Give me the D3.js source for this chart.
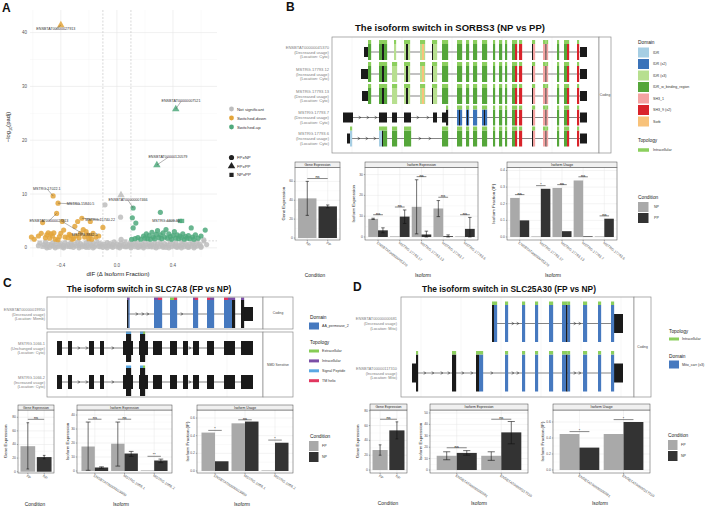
<!DOCTYPE html>
<html><head><meta charset="utf-8">
<script src="https://cdn.jsdelivr.net/npm/d3@7"></script>
<style>body{margin:0;background:#fff}svg{display:block}text{font-family:"Liberation Sans",Arial,sans-serif}</style>
</head><body><div id="chart"></div>
<script>
// ================= DATA =================
const volcanoNS = [
[-0.56,0.4,'c'],[-0.55,0.9,'c'],[-0.53,0.2,'s'],[-0.52,0.6,'c'],[-0.51,1.1,'c'],[-0.50,0.3,'c'],[-0.49,0.7,'s'],[-0.48,0.1,'c'],[-0.47,0.5,'c'],[-0.46,0.9,'c'],
[-0.45,0.3,'c'],[-0.44,0.6,'s'],[-0.43,1.2,'c'],[-0.42,0.2,'c'],[-0.41,0.5,'c'],[-0.40,0.8,'c'],[-0.39,0.1,'s'],[-0.38,0.4,'c'],[-0.37,1.0,'c'],[-0.36,0.3,'c'],
[-0.35,0.6,'c'],[-0.34,0.2,'s'],[-0.33,0.9,'c'],[-0.32,0.5,'c'],[-0.31,0.1,'c'],[-0.30,0.7,'c'],[-0.29,0.3,'s'],[-0.28,1.1,'c'],[-0.27,0.4,'c'],[-0.26,0.8,'c'],
[-0.25,0.2,'c'],[-0.24,0.6,'s'],[-0.23,0.3,'c'],[-0.22,1.0,'c'],[-0.21,0.5,'c'],[-0.20,0.1,'c'],[-0.19,0.7,'s'],[-0.18,0.4,'c'],[-0.17,0.9,'c'],[-0.16,0.2,'c'],
[-0.15,0.6,'c'],[-0.14,1.2,'s'],[-0.13,0.3,'c'],[-0.12,0.8,'c'],[-0.11,0.5,'c'],[-0.10,0.1,'c'],[-0.09,0.7,'s'],[-0.08,0.3,'c'],[-0.07,1.0,'c'],[-0.06,0.4,'c'],
[-0.05,0.8,'c'],[-0.04,0.2,'s'],[-0.03,0.6,'c'],[-0.02,1.1,'c'],[-0.01,0.3,'c'],[0.00,0.7,'c'],[0.01,0.1,'s'],[0.02,0.5,'c'],[0.03,0.9,'c'],[0.04,0.3,'c'],
[0.05,0.6,'c'],[0.06,1.2,'s'],[0.07,0.2,'c'],[0.08,0.5,'c'],[0.09,0.8,'c'],[0.10,0.3,'c'],[0.11,0.6,'s'],[0.12,1.0,'c'],[0.13,0.2,'c'],[0.14,0.5,'c'],
[0.15,0.9,'c'],[0.16,0.1,'s'],[0.17,0.4,'c'],[0.18,0.7,'c'],[0.19,0.3,'c'],[0.20,1.1,'c'],[0.21,0.5,'s'],[0.22,0.2,'c'],[0.23,0.8,'c'],[0.24,0.4,'c'],
[0.25,0.6,'c'],[0.26,0.1,'s'],[0.27,0.9,'c'],[0.28,0.3,'c'],[0.29,0.7,'c'],[0.30,0.2,'c'],[0.31,1.0,'s'],[0.32,0.5,'c'],[0.33,0.3,'c'],[0.34,0.8,'c'],
[0.35,0.1,'c'],[0.36,0.6,'s'],[0.37,0.4,'c'],[0.38,1.2,'c'],[0.39,0.2,'c'],[0.40,0.7,'c'],[0.41,0.4,'s'],[0.42,0.9,'c'],[0.43,0.1,'c'],[0.44,0.5,'c'],
[0.45,0.3,'c'],[0.46,1.0,'s'],[0.47,0.6,'c'],[0.48,0.2,'c'],[0.49,0.8,'c'],[0.50,0.4,'c'],[0.51,0.1,'s'],[0.52,0.7,'c'],[0.53,0.3,'c'],[0.54,0.9,'c'],
[0.55,0.5,'c'],[0.56,0.2,'s'],[0.57,1.1,'c'],[0.58,0.4,'c'],[0.59,0.7,'c'],[0.60,0.3,'c'],[0.62,1.2,'s'],[0.64,0.6,'c'],
[-0.50,0.0,'c'],[-0.44,0.0,'c'],[-0.38,0.0,'c'],[-0.33,0.2,'c'],[-0.27,0.0,'c'],[-0.22,0.1,'c'],[-0.17,0.0,'c'],[-0.12,0.2,'c'],[-0.07,0.0,'c'],[-0.03,0.1,'c'],
[0.02,0.0,'c'],[0.06,0.2,'c'],[0.10,0.0,'c'],[0.15,0.1,'c'],[0.19,0.0,'c'],[0.24,0.2,'c'],[0.28,0.0,'c'],[0.33,0.1,'c'],[0.37,0.0,'c'],[0.42,0.2,'c'],
[0.46,0.0,'c'],[0.51,0.1,'c'],[0.55,0.0,'c'],[0.60,0.1,'c'],
[-0.085,8.0,'c'],[0.026,5.7,'c'],[0.029,9.8,'t'],[0.03,1.6,'c'],[0.62,1.5,'c'],[-0.20,1.5,'c']];
const volcanoDown = [
[-0.61,2.0,'c'],[-0.59,1.6,'c'],[-0.56,2.2,'c'],[-0.54,2.7,'c'],[-0.53,4.7,'c'],[-0.51,1.9,'c'],[-0.50,2.4,'c'],[-0.49,2.8,'c'],[-0.48,1.8,'c'],[-0.47,2.6,'c'],
[-0.46,2.2,'c'],[-0.455,9.65,'c'],[-0.45,2.8,'c'],[-0.44,1.6,'c'],[-0.43,6.4,'c'],[-0.42,8.3,'c'],[-0.42,1.5,'c'],[-0.41,2.1,'c'],[-0.40,2.7,'c'],[-0.39,4.9,'c'],
[-0.38,3.3,'c'],[-0.37,2.0,'c'],[-0.35,1.9,'c'],[-0.34,2.5,'c'],[-0.33,2.3,'c'],[-0.32,1.6,'c'],[-0.31,1.7,'c'],[-0.30,4.0,'c'],[-0.29,2.2,'c'],[-0.28,4.9,'c'],
[-0.27,1.9,'c'],[-0.26,2.7,'c'],[-0.25,5.5,'c'],[-0.24,3.4,'c'],[-0.23,2.0,'c'],[-0.22,3.0,'c'],[-0.21,2.4,'c'],[-0.20,1.7,'c'],[-0.19,2.3,'c'],[-0.19,4.9,'c'],
[-0.18,1.6,'c'],[-0.17,2.7,'c'],[-0.15,2.0,'c'],[-0.13,2.2,'c'],[-0.10,3.8,'c'],[-0.40,41.4,'t']];
const volcanoUp = [
[0.116,7.4,'c'],[0.11,5.6,'c'],[0.116,3.7,'c'],[0.135,4.6,'c'],[0.105,1.6,'c'],[0.13,1.7,'c'],[0.15,1.9,'c'],[0.17,1.6,'c'],[0.19,2.2,'c'],[0.20,1.8,'c'],
[0.21,2.6,'c'],[0.22,1.7,'c'],[0.23,2.3,'c'],[0.24,1.6,'c'],[0.25,2.9,'c'],[0.26,2.0,'c'],[0.27,1.7,'c'],[0.28,2.5,'c'],[0.29,3.2,'c'],[0.30,1.9,'c'],
[0.31,6.6,'c'],[0.31,2.4,'c'],[0.32,1.7,'c'],[0.33,2.8,'c'],[0.34,2.0,'c'],[0.35,3.4,'c'],[0.36,1.8,'c'],[0.37,2.6,'c'],[0.38,2.1,'c'],[0.39,1.6,'c'],
[0.40,2.3,'c'],[0.41,3.0,'c'],[0.42,1.8,'c'],[0.43,2.4,'c'],[0.44,1.7,'c'],[0.45,2.2,'c'],[0.46,1.9,'c'],[0.47,2.6,'c'],[0.48,1.6,'c'],[0.49,2.1,'c'],
[0.50,1.8,'c'],[0.51,2.3,'c'],[0.52,1.7,'c'],[0.53,3.7,'c'],[0.54,2.0,'c'],[0.55,1.6,'c'],[0.56,2.4,'c'],[0.58,1.8,'c'],[0.60,2.2,'c'],[0.63,3.3,'c'],
[0.42,25.8,'t'],[0.285,15.4,'t'],[0.45,5.0,'s'],[0.465,5.0,'s']];
const volcanoLabels = [
["ENSBTAT00000027913",-0.40,41.4,-0.436,40.6],
["ENSBTAT00000007521",0.42,25.8,0.457,27.2],
["ENSBTAT00000120579",0.285,15.4,0.364,16.8],
["MSTRG.17022.1",-0.455,9.65,-0.50,11.0],
["MSTRG.15840.5",-0.42,8.3,-0.26,8.1],
["ENSBTAT00000007466",0.116,7.4,0.08,8.8],
["MSTRG.4409.30",0.45,5.0,0.35,5.0],
["ENSBTAT00000027813",-0.43,6.4,-0.485,5.0],
["MSTRG.15740.22",-0.25,5.5,-0.12,5.2],
["MSTRG.8842.5",-0.39,4.9,-0.23,2.4]];
const volcanoXTicks = [-0.4,0.0,0.4];
const volcanoYTicks = [0,10,20,30,40];
const sigClasses = ["Not significant","Switched-down","Switched-up"];
const comparisons = ["FPxNP","FPxPP","NPxPP"];

// Panel B SORBS3
const sorbsIsoforms = ["ENSBTAT00000045370","MSTRG.17793.12","MSTRG.17793.13","MSTRG.17793.7","MSTRG.17793.6"];
const sorbsUsage = ["Decreased usage","Increased usage","Decreased usage","Decreased usage","Increased usage"];
const sorbsLoc = ["Cyto","Cyto","Cyto","Cyto","Cyto"];
const sorbsTail = [[161,163,"W"],[167,170,"W"],[173,175,"W"],[180,183,"W"],[183,185,"S9"],[187,190,"S9"],[200,201,"K"],[201,203,"S1"],[211,213.5,"S1"],[213.5,214.5,"K"],[214.5,216,"S1"],[225,227,"W"],[232,235,"W"],[235,237,"S9"],[245,247,"S9"]];
const sorbsHead1 = [[36,39,"W"],[47,50,"W"],[50,52,"K"],[52,55,"W"],[62,64,"I3"],[72,74,"I3"],[74,76,"K"],[76,78,"I3"],[88,90,"I3"],[90,92,"SO"],[92,93,"I3"],[100,101,"K"],[101,105,"I3"],[110,116,"W"],[125,130,"W"],[134,137,"W"],[141,145,"W"],[150,155,"W"]];
const sorbsHead2 = [[36,39,"W"],[47,50,"W"],[50,52,"K"],[52,55,"W"],[60,65,"I3"],[72,74,"I3"],[74,76,"K"],[76,78,"I3"],[88,90,"I3"],[90,92,"SO"],[92,93,"I3"],[100,101,"K"],[101,105,"I3"],[110,116,"W"],[125,130,"W"],[134,137,"W"],[141,145,"W"],[150,155,"W"]];
const sorbsHead4 = [[114,116,"K"],[125,127,"I2"],[127,128,"K"],[128,130,"I2"],[134,135,"I2"],[135,136,"K"],[136,137,"I2"],[141,145,"I2"],[150,152,"I2"],[152,153,"K"],[153,155,"I2"]];
const sorbsHead5 = [[18,20,"I1"],[47,50,"I1"],[50,51,"K"],[51,55,"W"],[60,65,"W"],[72,79,"W"],[110,116,"W"],[125,130,"W"],[134,137,"W"],[141,145,"W"],[150,155,"W"]];
const sorbsUTR = [[[32,36],[248,255]],[[29,36],[248,255]],[[30,36],[248,255]],[[11,21],[47,55],[60,65],[72,79],[101,105],[110,114],[248,255]],[[15,18],[248,255]]];
const sorbsChev = [[],[],[],[28,36,44,86,96],[27,35,43,88,98]];
const sorbsDomains = ["IDR","IDR (x2)","IDR (x3)","IDR_w_binding_region","SH3_1","SH3_9 (x2)","Sorb"];
const sorbsDomainKeys = ["I1","I2","I3","W","S1","S9","SO"];
const sorbsConds = ["NP","PP"];
const sorbsGene = [42,33.5];
const sorbsGeneErr = [[24,60],[32,35]];
const sorbsGeneSig = [["ns",63]];
const sorbsIsoNP = [8.7,0.3,14.5,13.7,0.2];
const sorbsIsoPP = [3.2,9.8,1.2,0.4,3.9];
const sorbsIsoErrNP = [[8.4,9.0],null,[1.5,27.5],[9.8,17.5],null];
const sorbsIsoErrPP = [[2.0,4.4],[6.5,13.0],[0,2.8],[0,1.0],[0,9.4]];
const sorbsIsoSig = [["ns",10.7],["ns",14.4],["ns",29.0],["ns",19.1],["ns",10.7]];
const sorbsIFNP = [0.235,0.0,0.295,0.34,0.0];
const sorbsIFPP = [0.10,0.29,0.035,0.004,0.11];
const sorbsIFSig = [["ns",0.255],["*",0.309],["ns",0.315],["ns",0.362],["ns",0.127]];

// Panel C SLC7A8
const slc7Isoforms = ["ENSBTAT00000019950","MSTRG.1066.1","MSTRG.1066.2"];
const slc7Usage = ["Decreased usage","Unchanged usage","Increased usage"];
const slc7Loc = ["Memb","Cyto","Cyto"];
const slc7CDS = [
 [[80,81.5,"K"],[81.5,82.5,"AA"],[107,115,"AA"],[123,130,"AA"],[146,151,"AA"],[160,167,"AA"],[177,185,"AA"],[185,188,"K"],[194,197,"K"]],
 [[79,84,"K"],[93,98,"K"]],
 [[79,84,"K"],[93,98,"K"]]];
const slc7UTR = [
 [[197,206]],
 [[10,15],[21,25],[42,47],[53,57],[76,86],[92,101],[106,115],[123,130],[136,141],[146,152],[160,167],[177,188],[194,206]],
 [[10,15],[21,25],[42,47],[53,57],[76,86],[92,101],[106,115],[123,130],[136,141],[146,152],[160,167],[177,188],[194,206]]];
const slc7Topo = [
 [[80,82.5,"IN"],[107,111,"IN"],[111,115,"TM"],[123,127,"EX"],[127,130,"TM"],[146,148,"IN"],[148,151,"TM"],[160,163,"TM"],[163,167,"IN"],[177,181,"TM"],[181,188,"IN"],[194,197,"IN"]],
 [[79,84,"SP"],[93,96,"SP"],[96,98,"EX"]],
 [[79,84,"SP"],[93,96,"SP"],[96,98,"EX"]]];
const slc7Chev = [[90,96,101,135],[32,40,66,143],[32,40,66,143]];
const slc7Conds = ["FP","NP"];
const slc7Gene = [37.5,21.5];
const slc7GeneErr = [[4,72],[19,24]];
const slc7GeneSig = [["ns",77]];
const slc7IsoFP = [17.5,19.5,0.3];
const slc7IsoNP = [2.5,12.5,7.5];
const slc7IsoErrFP = [[0.5,35],[3.5,35],null];
const slc7IsoErrNP = [[2,3],[10.5,14],[6,8.5]];
const slc7IsoSig = [["ns",37],["ns",37],["**",10.5]];
const slc7IFFP = [0.435,0.54,0.0];
const slc7IFNP = [0.11,0.56,0.32];
const slc7IFSig = [["*",0.46],["ns",0.58],["*",0.35]];

// Panel D SLC25A30
const slc25Isoforms = ["ENSBTAT00000000681","ENSBTAT00000117310"];
const slc25Usage = ["Decreased usage","Increased usage"];
const slc25Loc = ["Mito","Mito"];
const slc25Shared = [[104,107,"MC"],[121,124,"MC"],[134,137,"MC"],[148,152,"MC"],[161,165,"MC"],[165,166.5,"K"],[166.5,169,"MC"],[182,186,"MC"],[197,200,"MC"],[210,213,"MC"]];
const slc25Head1 = [[91,93,"K"],[93,96,"MC"]];
const slc25Head2 = [[15,17,"K"],[51,55,"K"],[75,78,"K"],[78,82,"MC"]];
const slc25UTR = [[[213,222]],[[11,15],[213,222]]];
const slc25Chev = [[112,117,174,179],[24,32,41,48,62,71,91,112,117,174,179]];
const slc25Conds = ["FP","NP"];
const slc25Gene = [27,53.5];
const slc25GeneErr = [[20,34],[42,65]];
const slc25GeneSig = [["ns",68.5]];
const slc25IsoFP = [12.5,12.5];
const slc25IsoNP = [15,33];
const slc25IsoErrFP = [[9,16],[8.5,16]];
const slc25IsoErrNP = [[13,17],[23,42.5]];
const slc25IsoSig = [["ns",19.5],["ns",44.5]];
const slc25IFFP = [0.45,0.45];
const slc25IFNP = [0.28,0.60];
const slc25IFSig = [["*",0.48],["*",0.63]];

// ================= STYLE =================
const COL = {I1:"#a6cee3",I2:"#3b73b9",I3:"#b7df8f",W:"#55a63a",S1:"#f4a3a2",S9:"#d9232a",SO:"#f8c27a",K:"#1a1a1a",
  AA:"#4679bf",MC:"#4679bf",IN:"#7b4ea6",EX:"#86cc55",SP:"#5aa8e3",TM:"#e1365f",INB:"#8ccf5e"};
const volColors = ["#bdbdbd","#e3a53a","#4fa97c"];
const condLight = "#a9a9a9", condDark = "#333333";

const svg = d3.select("#chart").append("svg").attr("width",708).attr("height",507);
function txt(g,x,y,s,o={}){
  return g.append("text").attr("x",x).attr("y",y).text(s)
   .attr("font-size",o.size||4).attr("fill",o.fill||"#4d4d4d")
   .attr("text-anchor",o.anchor||"start").attr("font-weight",o.weight||"normal")
   .attr("dominant-baseline",o.base||"central");
}
function symOf(s){return s==='t'?d3.symbolTriangle:(s==='s'?d3.symbolSquare:d3.symbolCircle);}
function symSize(s){return s==='t'?24:(s==='s'?18:21);}

// ================= PANEL A =================
(function(){
  const g = svg.append("g");
  const x = d3.scaleLinear().domain([-0.62,0.714]).range([30,217]);
  const y = d3.scaleLinear().domain([-1.7,44.2]).range([257,10]);
  [-0.6,-0.2,0.2,0.6].forEach(v=>g.append("line").attr("x1",x(v)).attr("x2",x(v)).attr("y1",10).attr("y2",257).attr("stroke","#f3f3f3").attr("stroke-width",0.4));
  [5,15,25,35].forEach(v=>g.append("line").attr("x1",30).attr("x2",217).attr("y1",y(v)).attr("y2",y(v)).attr("stroke","#f3f3f3").attr("stroke-width",0.4));
  volcanoXTicks.forEach(v=>g.append("line").attr("x1",x(v)).attr("x2",x(v)).attr("y1",10).attr("y2",257).attr("stroke","#e6e6e6").attr("stroke-width",0.6));
  volcanoYTicks.forEach(v=>g.append("line").attr("x1",30).attr("x2",217).attr("y1",y(v)).attr("y2",y(v)).attr("stroke","#e6e6e6").attr("stroke-width",0.6));
  [-0.1,0.1].forEach(v=>g.append("line").attr("x1",x(v)).attr("x2",x(v)).attr("y1",10).attr("y2",257).attr("stroke","#bdbdbd").attr("stroke-width",0.6).attr("stroke-dasharray","2,1.5"));
  g.append("line").attr("x1",30).attr("x2",217).attr("y1",y(1.3)).attr("y2",y(1.3)).attr("stroke","#bdbdbd").attr("stroke-width",0.6).attr("stroke-dasharray","2,1.5");
  const pts = (arr,col)=>g.selectAll(null).data(arr).enter().append("path")
    .attr("d",d=>d3.symbol().type(symOf(d[2])).size(symSize(d[2]))())
    .attr("transform",d=>`translate(${x(d[0])},${y(d[1])})`).attr("fill",col).attr("opacity",0.85);
  pts(volcanoNS,volColors[0]); pts(volcanoDown,volColors[1]); pts(volcanoUp,volColors[2]);
  volcanoLabels.forEach(l=>{
    g.append("line").attr("x1",x(l[1])).attr("y1",y(l[2])).attr("x2",x(l[3])).attr("y2",y(l[4])).attr("stroke","#444").attr("stroke-width",0.4);
    txt(g,x(l[3]),y(l[4]),l[0],{size:3.7,fill:"#333",anchor:"middle"});
  });
  volcanoXTicks.forEach(v=>txt(g,x(v),265,d3.format(".1f")(v),{size:4.5,anchor:"middle",fill:"#555"}));
  volcanoYTicks.forEach(v=>txt(g,27,y(v),String(v),{size:4.5,anchor:"end",fill:"#555"}));
  txt(g,118,273.5,"dIF (Δ Isoform Fraction)",{size:6,anchor:"middle",fill:"#222"});
  const t = g.append("text").attr("transform","translate(8,127) rotate(-90)").attr("text-anchor","middle").attr("font-size",5.8).attr("fill","#222").attr("dominant-baseline","central");
  t.append("tspan").text("−log"); t.append("tspan").attr("font-size",4).attr("dy",1.5).text("10"); t.append("tspan").attr("dy",-1.5).text("(padj)");
  sigClasses.forEach((s,i)=>{
    g.append("circle").attr("cx",231.5).attr("cy",109+i*9).attr("r",2.4).attr("fill",volColors[i]);
    txt(g,237,109+i*9,s,{size:4.3,fill:"#333"});
  });
  comparisons.forEach((s,i)=>{
    g.append("path").attr("d",d3.symbol().type(symOf(['c','t','s'][i])).size(symSize(['c','t','s'][i]))()).attr("transform",`translate(231.5,${157.5+i*8.7})`).attr("fill","#222");
    txt(g,237,157.5+i*8.7,s,{size:4.3,fill:"#333"});
  });
})();

// ================= GENE STRUCTURE =================
function geneBox(c){
  const g = svg.append("g");
  const x = d3.scaleLinear().domain(c.dom).range([c.x0,c.x1]);
  c.panels.forEach(p=>{
    g.append("rect").attr("x",c.x0).attr("y",p.y0).attr("width",c.x1-c.x0).attr("height",p.y1-p.y0).attr("fill","#fff");
    c.grid.forEach(v=>g.append("line").attr("x1",x(v)).attr("x2",x(v)).attr("y1",p.y0).attr("y2",p.y1).attr("stroke","#ececec").attr("stroke-width",0.5));
  });
  c.rows.forEach(r=>{
    const all = r.utr.concat(r.cds);
    const lo = d3.min(all,d=>d[0]), hi = d3.max(all,d=>d[1]);
    g.append("line").attr("x1",x(lo)).attr("x2",x(hi)).attr("y1",r.cy).attr("y2",r.cy).attr("stroke","#333").attr("stroke-width",0.6);
    r.chev.forEach(v=>g.append("path").attr("d",`M${x(v)-1.3},${r.cy-1.3}L${x(v)+0.9},${r.cy}L${x(v)-1.3},${r.cy+1.3}`).attr("fill","none").attr("stroke","#333").attr("stroke-width",0.6));
    g.selectAll(null).data(r.utr).enter().append("rect").attr("x",d=>x(d[0])).attr("width",d=>x(d[1])-x(d[0])).attr("y",r.cy-c.hu).attr("height",2*c.hu).attr("fill",COL.K);
    g.selectAll(null).data(r.cds).enter().append("rect").attr("x",d=>x(d[0])).attr("width",d=>x(d[1])-x(d[0])+0.15).attr("y",r.cy-c.hb).attr("height",2*c.hb).attr("fill",d=>COL[d[2]]);
    g.selectAll(null).data(r.caps).enter().append("rect").attr("x",d=>x(d[0])).attr("width",d=>x(d[1])-x(d[0])+0.15).attr("y",r.cy-c.hb-c.capH).attr("height",c.capH).attr("fill",d=>COL[d[2]]);
    r.lab.forEach((s,i)=>txt(g,c.labX,r.cy+(i-1)*4.6,s,{size:c.labSize||4,anchor:"end",fill:"#808080"}));
  });
  c.panels.forEach(p=>{
    g.append("rect").attr("x",c.x0).attr("y",p.y0).attr("width",c.x1-c.x0).attr("height",p.y1-p.y0).attr("fill","none").attr("stroke","#8c8c8c").attr("stroke-width",0.7);
    g.append("rect").attr("x",c.x1).attr("y",p.y0).attr("width",c.sx1-c.x1).attr("height",p.y1-p.y0).attr("fill","#fff").attr("stroke","#8c8c8c").attr("stroke-width",0.7);
    txt(g,(c.x1+c.sx1)/2,(p.y0+p.y1)/2,p.strip,{size:3.3,fill:"#444",anchor:"middle"});
  });
}
const capsFrom = (cds,key)=>cds.map(d=>[d[0],d[1],key]);

const sorbsHeads = [sorbsHead1,sorbsHead2,sorbsHead2,sorbsHead4,sorbsHead5];
geneBox({x0:332,x1:599,sx1:611,dom:[0,267],grid:[20,70,120,170,220],hb:8,hu:5,capH:4,labX:329,labSize:4.1,
  panels:[{y0:37,y1:153,strip:"Coding"}],
  rows:sorbsIsoforms.map((n,i)=>{const cds=sorbsHeads[i].concat(sorbsTail);return {cy:[52,74,96,117.5,138.5][i],lab:[n,"("+sorbsUsage[i]+")","(Location: "+sorbsLoc[i]+")"],utr:sorbsUTR[i],cds:cds,caps:capsFrom(cds,"INB"),chev:sorbsChev[i]};})});
geneBox({x0:47,x1:263,sx1:293,dom:[0,216],grid:[20,60,100,140,180],hb:14,hu:7,capH:2.5,labX:45,labSize:3.9,
  panels:[{y0:297,y1:329,strip:"Coding"},{y0:332,y1:397,strip:"NMD Sensitive"}],
  rows:slc7Isoforms.map((n,i)=>({cy:[314,348,382][i],lab:[n,"("+slc7Usage[i]+")","(Location: "+slc7Loc[i]+")"],utr:slc7UTR[i],cds:slc7CDS[i],caps:slc7Topo[i],chev:slc7Chev[i]}))});
const slc25Heads=[slc25Head1,slc25Head2];
geneBox({x0:401,x1:634,sx1:651,dom:[0,233],grid:[20,60,100,140,180,220],hb:18.5,hu:9.5,capH:3.5,labX:397,labSize:3.9,
  panels:[{y0:297,y1:397,strip:"Coding"}],
  rows:slc25Isoforms.map((n,i)=>{const cds=slc25Heads[i].concat(slc25Shared);return {cy:[323.5,373][i],lab:[n,"("+slc25Usage[i]+")","(Location: "+slc25Loc[i]+")"],utr:slc25UTR[i],cds:cds,caps:capsFrom(cds,"INB"),chev:slc25Chev[i]};})});

// ================= BAR PANELS =================
function barPanel(c){
  const g = svg.append("g");
  const n = c.cats.length;
  const x = d3.scaleLinear().domain([0.4,n+0.6]).range([c.x0,c.x1]);
  const y = d3.scaleLinear().domain(c.ydom).range([c.y1,c.y0]);
  g.append("rect").attr("x",c.x0).attr("y",c.y0).attr("width",c.x1-c.x0).attr("height",c.y1-c.y0).attr("fill","#fff");
  for(let i=0;i<c.yticks.length-1;i++){const m=(c.yticks[i]+c.yticks[i+1])/2;g.append("line").attr("x1",c.x0).attr("x2",c.x1).attr("y1",y(m)).attr("y2",y(m)).attr("stroke","#f2f2f2").attr("stroke-width",0.4);}
  c.yticks.forEach(v=>g.append("line").attr("x1",c.x0).attr("x2",c.x1).attr("y1",y(v)).attr("y2",y(v)).attr("stroke","#e6e6e6").attr("stroke-width",0.5));
  c.cats.forEach((d,i)=>g.append("line").attr("x1",x(i+1)).attr("x2",x(i+1)).attr("y1",c.y0).attr("y2",c.y1).attr("stroke","#e6e6e6").attr("stroke-width",0.5));
  const bars=[];
  if(c.mode==="gene"){
    c.vals.forEach((v,i)=>bars.push({c:i+1,w:0.9,v:v,col:c.colors[i],e:c.errs[i]}));
  } else {
    c.vals.forEach((arr,j)=>arr.forEach((v,i)=>bars.push({c:i+1+(j-0.5)*0.45,w:0.45,v:v,col:c.colors[j],e:c.errs[j][i]})));
  }
  bars.forEach(b=>{
    const top=Math.min(y(b.v),y(0)-0.6);
    g.append("rect").attr("x",x(b.c-b.w/2)).attr("width",x(b.c+b.w/2)-x(b.c-b.w/2)).attr("y",top).attr("height",y(0)-top).attr("fill",b.col);
  });
  bars.forEach(b=>{
    if(!b.e) return;
    const cx=x(b.c), hw=x(0.08)-x(0);
    g.append("line").attr("x1",cx).attr("x2",cx).attr("y1",y(b.e[0])).attr("y2",y(b.e[1])).attr("stroke","#111").attr("stroke-width",0.6);
    [b.e[0],b.e[1]].forEach(v=>g.append("line").attr("x1",cx-hw).attr("x2",cx+hw).attr("y1",y(v)).attr("y2",y(v)).attr("stroke","#111").attr("stroke-width",0.6));
  });
  c.sig.forEach((s,i)=>{
    const a = c.mode==="gene"?1:i+1-0.225, b = c.mode==="gene"?2:i+1+0.225;
    g.append("line").attr("x1",x(a)).attr("x2",x(b)).attr("y1",y(s[1])).attr("y2",y(s[1])).attr("stroke","#111").attr("stroke-width",0.5);
    txt(g,(x(a)+x(b))/2,y(s[1])-(s[0]==="ns"?1.6:0.9),s[0],{size:s[0]==="ns"?4:3.6,anchor:"middle",fill:"#111"});
  });
  g.append("rect").attr("x",c.x0).attr("y",c.y0).attr("width",c.x1-c.x0).attr("height",c.y1-c.y0).attr("fill","none").attr("stroke","#444").attr("stroke-width",0.5);
  g.append("rect").attr("x",c.x0).attr("y",c.sy).attr("width",c.x1-c.x0).attr("height",c.y0-c.sy).attr("fill","#f0f0f0").attr("stroke","#444").attr("stroke-width",0.5);
  txt(g,(c.x0+c.x1)/2,(c.sy+c.y0)/2+0.2,c.title,{size:3.4,anchor:"middle",fill:"#222"});
  c.yticks.forEach(v=>{
    g.append("line").attr("x1",c.x0-1.2).attr("x2",c.x0).attr("y1",y(v)).attr("y2",y(v)).attr("stroke","#444").attr("stroke-width",0.4);
    txt(g,c.x0-2,y(v),c.fmt(v),{size:3.4,anchor:"end",fill:"#555"});
  });
  c.cats.forEach((d,i)=>{
    g.append("line").attr("x1",x(i+1)).attr("x2",x(i+1)).attr("y1",c.y1).attr("y2",c.y1+1.2).attr("stroke","#444").attr("stroke-width",0.4);
    g.append("text").attr("transform",`translate(${x(i+1)-1},${c.y1+2.5}) rotate(${c.rot})`).attr("font-size",3.6).attr("fill","#555").attr("dominant-baseline","central").text(d);
  });
  g.append("text").attr("transform",`translate(${c.ylx},${(c.y0+c.y1)/2}) rotate(-90)`).attr("text-anchor","middle").attr("font-size",4.4).attr("fill","#222").attr("dominant-baseline","central").text(c.ylab);
  txt(g,c.xtx,c.xty,c.xlab,{size:4.8,anchor:"middle",fill:"#222"});
}
const f0=d3.format("d"), f1=d3.format(".1f");
barPanel({mode:"gene",x0:295,x1:340,sy:162,y0:167.5,y1:240,title:"Gene Expression",cats:sorbsConds,vals:sorbsGene,errs:sorbsGeneErr,colors:[condLight,condDark],sig:sorbsGeneSig,ydom:[-2.1,74.7],yticks:[0,20,40,60],fmt:f0,ylab:"Gene Expression",ylx:283,rot:40,xlab:"Condition",xtx:315,xty:275.5});
barPanel({mode:"iso",x0:365,x1:478,sy:162,y0:167.5,y1:240,title:"Isoform Expression",cats:sorbsIsoforms,vals:[sorbsIsoNP,sorbsIsoPP],errs:[sorbsIsoErrNP,sorbsIsoErrPP],colors:[condLight,condDark],sig:sorbsIsoSig,ydom:[-1.45,33.4],yticks:[0,10,20,30],fmt:f0,ylab:"Isoform Expression",ylx:353,rot:38,xlab:"Isoform",xtx:423,xty:275.5});
barPanel({mode:"iso",x0:507,x1:617,sy:162,y0:167.5,y1:240,title:"Isoform Usage",cats:sorbsIsoforms,vals:[sorbsIFNP,sorbsIFPP],errs:[[null,null,null,null,null],[null,null,null,null,null]],colors:[condLight,condDark],sig:sorbsIFSig,ydom:[-0.018,0.418],yticks:[0,0.1,0.2,0.3,0.4],fmt:f1,ylab:"Isoform Fraction (IF)",ylx:493,rot:38,xlab:"Isoform",xtx:553,xty:275.5});
barPanel({mode:"gene",x0:18,x1:54,sy:405,y0:410,y1:473,title:"Gene Expression",cats:slc7Conds,vals:slc7Gene,errs:slc7GeneErr,colors:[condLight,condDark],sig:slc7GeneSig,ydom:[-1.9,90.7],yticks:[0,20,40,60,80],fmt:f0,ylab:"Gene Expression",ylx:5,rot:40,xlab:"Condition",xtx:35,xty:504});
barPanel({mode:"iso",x0:77,x1:172,sy:405,y0:410,y1:473,title:"Isoform Expression",cats:slc7Isoforms,vals:[slc7IsoFP,slc7IsoNP],errs:[slc7IsoErrFP,slc7IsoErrNP],colors:[condLight,condDark],sig:slc7IsoSig,ydom:[-1.43,43.6],yticks:[0,10,20,30,40],fmt:f0,ylab:"Isoform Expression",ylx:67,rot:32,xlab:"Isoform",xtx:121,xty:504});
barPanel({mode:"iso",x0:197,x1:293,sy:405,y0:410,y1:473,title:"Isoform Usage",cats:slc7Isoforms,vals:[slc7IFFP,slc7IFNP],errs:[[null,null,null],[null,null,null]],colors:[condLight,condDark],sig:slc7IFSig,ydom:[-0.023,0.691],yticks:[0,0.2,0.4,0.6],fmt:f1,ylab:"Isoform Fraction (IF)",ylx:187,rot:32,xlab:"Isoform",xtx:242,xty:504});
barPanel({mode:"gene",x0:370,x1:407,sy:404,y0:410,y1:473,title:"Gene Expression",cats:slc25Conds,vals:slc25Gene,errs:slc25GeneErr,colors:[condLight,condDark],sig:slc25GeneSig,ydom:[-4,81],yticks:[0,20,40,60,80],fmt:f0,ylab:"Gene Expression",ylx:357,rot:40,xlab:"Condition",xtx:388,xty:503});
barPanel({mode:"iso",x0:430,x1:528,sy:404,y0:410,y1:473,title:"Isoform Expression",cats:slc25Isoforms,vals:[slc25IsoFP,slc25IsoNP],errs:[slc25IsoErrFP,slc25IsoErrNP],colors:[condLight,condDark],sig:slc25IsoSig,ydom:[-2.6,52.6],yticks:[0,10,20,30,40,50],fmt:f0,ylab:"Isoform Expression",ylx:420,rot:34,xlab:"Isoform",xtx:479,xty:503});
barPanel({mode:"iso",x0:553,x1:650,sy:404,y0:410,y1:473,title:"Isoform Usage",cats:slc25Isoforms,vals:[slc25IFFP,slc25IFNP],errs:[[null,null],[null,null]],colors:[condLight,condDark],sig:slc25IFSig,ydom:[-0.0375,0.75],yticks:[0,0.2,0.4,0.6],fmt:f1,ylab:"Isoform Fraction (IF)",ylx:542,rot:34,xlab:"Isoform",xtx:600,xty:503});

// ================= LEGENDS =================
function legTitle(x,y,s){txt(svg,x,y,s,{size:4.8,fill:"#222"});}
function legItem(x,y,w,h,col,s,lx){svg.append("rect").attr("x",x).attr("y",y-h/2).attr("width",w).attr("height",h).attr("fill",col);txt(svg,lx,y,s,{size:3.6,fill:"#333"});}
legTitle(638,42,"Domain");
sorbsDomains.forEach((d,i)=>legItem(638,52.5+i*11.5,11,10,COL[sorbsDomainKeys[i]],d,653));
legTitle(638,140,"Topology");
legItem(638,150,11,3.5,COL.INB,"Intracellular",653);
legTitle(638,197,"Condition");
sorbsConds.forEach((d,i)=>legItem(638,207+i*11,10.5,10,[condLight,condDark][i],d,654));
legTitle(310,317,"Domain");
legItem(309,326,10,7,COL.AA,"AA_permease_2",322);
legTitle(310,342,"Topology");
[["EX","Extracellular"],["IN","Intracellular"],["SP","Signal Peptide"],["TM","TM helix"]].forEach((d,i)=>legItem(309,351+i*9.9,10,3,COL[d[0]],d[1],322));
legTitle(310,436,"Condition");
slc7Conds.forEach((d,i)=>legItem(309,446+i*11,9.5,10,[condLight,condDark][i],d,322));
legTitle(669,331,"Topology");
legItem(669,339,10,3,COL.INB,"Intracellular",682);
legTitle(669,356,"Domain");
legItem(669,364.5,10,8,COL.MC,"Mito_carr (x3)",682);
legTitle(668,435,"Condition");
slc25Conds.forEach((d,i)=>legItem(668,445+i*11,9.5,10,[condLight,condDark][i],d,681));

// ================= TITLES & LETTERS =================
txt(svg,450,27,"The isoform switch in SORBS3 (NP vs PP)",{size:9.5,weight:"bold",anchor:"middle",fill:"#111"});
txt(svg,149,289,"The isoform switch in SLC7A8 (FP vs NP)",{size:8.4,weight:"bold",anchor:"middle",fill:"#111"});
txt(svg,509,289,"The isoform switch in SLC25A30 (FP vs NP)",{size:8.4,weight:"bold",anchor:"middle",fill:"#111"});
txt(svg,2,12,"A",{size:12,weight:"bold",fill:"#111",base:"auto"});
txt(svg,286,10.5,"B",{size:12,weight:"bold",fill:"#111",base:"auto"});
txt(svg,3,287,"C",{size:12,weight:"bold",fill:"#111",base:"auto"});
txt(svg,353,291,"D",{size:12,weight:"bold",fill:"#111",base:"auto"});
</script></body></html>
